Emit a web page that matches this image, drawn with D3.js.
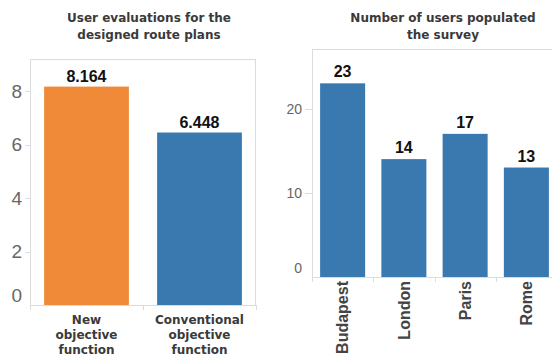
<!DOCTYPE html>
<html>
<head>
<meta charset="utf-8">
<script src="https://cdn.jsdelivr.net/npm/d3@7"></script>
<style>
  html, body { margin: 0; padding: 0; background: #fff; }
  svg { display: block; }
</style>
</head>
<body>
<svg id="chart" width="552" height="356"></svg>
<script>
// Left panel: user evaluations
const evalCategories = [["New", "objective", "function"], ["Conventional", "objective", "function"]];
const evalValues = [8.164, 6.448];
const evalLabels = ["8.164", "6.448"];
const evalTicks = [0, 2, 4, 6, 8];
const evalTitle = ["User evaluations for the", "designed route plans"];

// Right panel: number of users per city
const cities = ["Budapest", "London", "Paris", "Rome"];
const userCounts = [23, 14, 17, 13];
const userTicks = [0, 10, 20];
const userTitle = ["Number of users populated", "the survey"];

const svg = d3.select("#chart");
const frameColor = "#dcdcdc";
const titleFont = "DejaVu Sans, Verdana, sans-serif";
const numFont = "Liberation Sans, Arial, sans-serif";

function panel(opts) {
  const g = svg.append("g");
  const x = d3.scaleBand()
    .domain(d3.range(opts.values.length))
    .range([opts.left, opts.right])
    .paddingInner(opts.pad)
    .paddingOuter(opts.pad / 2);
  const y = d3.scaleLinear().domain(opts.domain).range([opts.bottom, opts.bottomAt(opts.domain[1])]);

  // frame
  g.append("rect")
    .attr("x", opts.left + 0.5).attr("y", opts.top + 0.5)
    .attr("width", opts.right - opts.left - 1).attr("height", opts.bottom - opts.top)
    .attr("fill", "none").attr("stroke", frameColor).attr("stroke-width", 1);

  // y ticks
  const yt = g.append("g").attr("class", "y-axis");
  opts.ticks.forEach(t => {
    const yy = Math.round(y(t)) + 0.5;
    if (t !== 0) {
      yt.append("line")
        .attr("x1", opts.left - opts.tickLen).attr("x2", opts.left)
        .attr("y1", yy).attr("y2", yy)
        .attr("stroke", frameColor);
    }
    yt.append("text")
      .attr("x", opts.left - opts.tickLen - 3)
      .attr("y", y(t) + (t === 0 ? opts.zeroShift : 0))
      .attr("dy", "0.36em")
      .attr("text-anchor", "end")
      .attr("font-family", numFont)
      .attr("font-size", opts.yFont)
      .attr("fill", "#666")
      .text(t);
  });

  // bars
  g.selectAll("rect.bar")
    .data(opts.values)
    .join("rect")
    .attr("class", "bar")
    .attr("x", (d, i) => x(i))
    .attr("width", x.bandwidth())
    .attr("y", d => y(d))
    .attr("height", d => y(0) - y(d))
    .attr("fill", (d, i) => opts.colors[i % opts.colors.length]);

  // value labels
  g.selectAll("text.val")
    .data(opts.values)
    .join("text")
    .attr("class", "val")
    .attr("x", (d, i) => x(i) + x.bandwidth() / 2)
    .attr("y", d => y(d) - opts.valGap)
    .attr("text-anchor", "middle")
    .attr("font-family", numFont)
    .attr("font-weight", "bold")
    .attr("font-size", 16)
    .attr("fill", "#111")
    .text((d, i) => opts.labels[i]);

  // bottom ticks at band boundaries
  const step = x.step();
  for (let i = 0; i <= opts.values.length; i++) {
    const xx = Math.round(opts.left + i * step) + 0.5;
    g.append("line")
      .attr("x1", xx).attr("x2", xx)
      .attr("y1", opts.bottom).attr("y2", opts.bottom + 5)
      .attr("stroke", frameColor);
  }

  // title
  const tt = g.append("text")
    .attr("text-anchor", "middle")
    .attr("font-family", titleFont)
    .attr("font-weight", "bold")
    .attr("font-size", 12)
    .attr("fill", "#3a3a3a");
  opts.title.forEach((line, i) => {
    tt.append("tspan").attr("x", opts.titleX).attr("y", 22 + i * 17).text(line);
  });

  return { g, x, y };
}

// left
const L = panel({
  values: evalValues, labels: evalLabels, ticks: evalTicks, title: evalTitle,
  left: 30, right: 256, top: 59, bottom: 305, pad: 0.25,
  domain: [0, 9.2], bottomAt: v => 305 - v * 26.75,
  tickLen: 5, yFont: 19, zeroShift: -10, titleX: 149, valGap: 5,
  colors: ["#f08a38", "#3a78b0"]
});
L.g.selectAll("text.cat")
  .data(evalCategories)
  .join("text")
  .attr("class", "cat")
  .attr("text-anchor", "middle")
  .attr("font-family", titleFont)
  .attr("font-weight", "bold")
  .attr("font-size", 12)
  .attr("fill", "#3a3a3a")
  .each(function (lines, i) {
    const t = d3.select(this);
    const cx = L.x(i) + L.x.bandwidth() / 2;
    lines.forEach((ln, j) => t.append("tspan").attr("x", cx).attr("y", 324 + j * 15).text(ln));
  });

// right
const R = panel({
  values: userCounts, labels: userCounts.map(String), ticks: userTicks, title: userTitle,
  left: 312, right: 557, top: 49, bottom: 277, pad: 0.265,
  domain: [0, 27], bottomAt: v => 277 - v * 8.42,
  tickLen: 7, yFont: 14, zeroShift: -9, titleX: 443, valGap: 6,
  colors: ["#3a78b0"]
});
R.g.selectAll("text.cat")
  .data(cities)
  .join("text")
  .attr("class", "cat")
  .attr("transform", (d, i) => `translate(${R.x(i) + R.x.bandwidth() / 2},281) rotate(-90)`)
  .attr("dy", "0.36em")
  .attr("text-anchor", "end")
  .attr("font-family", numFont)
  .attr("font-weight", "bold")
  .attr("font-size", 16)
  .attr("fill", "#444")
  .text(d => d);
</script>
</body>
</html>
